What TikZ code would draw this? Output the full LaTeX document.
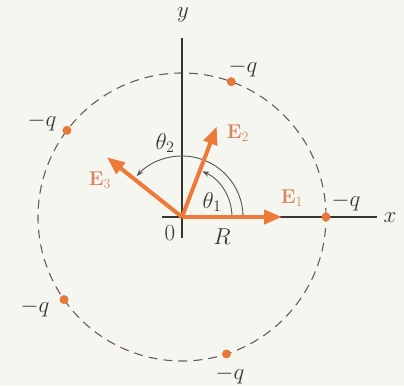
\RequirePackage{fix-cm}
\documentclass[tikz,border=0pt]{standalone}
\usetikzlibrary{arrows.meta}
\definecolor{vec}{HTML}{EE7A3A}
\definecolor{veclab}{HTML}{D9845E}
\definecolor{dotc}{HTML}{E8773A}
\definecolor{axisc}{HTML}{3A3535}
\definecolor{circc}{HTML}{6E5A5A}
\definecolor{bgc}{HTML}{F6F6F0}
\tikzset{
  vecarrow/.style={draw=vec, line width=4pt, -{Triangle[length=18pt,width=14pt]}},
  axisline/.style={draw=axisc, line width=1.1pt},
  anglearc/.style={draw=axisc!85, line width=0.9pt, -{Stealth[length=7pt,width=5pt]}},
  charge/.style={circle, fill=dotc, inner sep=0pt, minimum size=9pt},
  lab/.style={text=axisc, font=\fontsize{23}{25}\selectfont, inner sep=0pt},
  vlab/.style={text=veclab, font=\fontsize{20}{22}\selectfont, inner sep=0pt},
}
\begin{document}
\begin{tikzpicture}[x=1pt,y=1pt]
\fill[bgc] (-182,-169) rectangle (222,217);
\useasboundingbox (-182,-169) rectangle (222,217);
\coordinate (O) at (0,0);
\coordinate (xs) at (-20,0);
\coordinate (xe) at (195,0);
\coordinate (ys) at (0,-21);
\coordinate (ye) at (0,179);
% dashed circle
\draw[circc, line width=1.1pt, dash pattern=on 9pt off 6pt] (O) circle[radius=144];
% axes
\draw[axisline] (xs) -- (xe);
\draw[axisline] (ys) -- (ye);
% angle arcs
\draw[anglearc] (50,0) arc[start angle=0, end angle=66, radius=50];
\draw[anglearc] (61,0) arc[start angle=0, end angle=138, radius=61];
% vectors
\coordinate (e1) at (0:100);
\coordinate (e2) at (69:97);
\coordinate (e3) at (141.5:96);
\draw[vecarrow] (O) -- (e1);
\draw[vecarrow] (O) -- (e2);
\draw[vecarrow] (O) -- (e3);
% charges
\node[charge] (q1) at (0:144) {};
\node[charge] (q2) at (70:144) {};
\node[charge] (q3) at (143:144) {};
\node[charge] (q4) at (215:144) {};
\node[charge] (q5) at (288:144) {};
% labels
\node[lab] (ly) at (1,202) {$y$};
\node[lab] (lx) at (208,-1) {$x$};
\node[lab] (lq1) at (164,15) {$-q$};
\node[lab] (lq2) at (61,149) {$-q$};
\node[lab] (lq3) at (-140,95) {$-q$};
\node[lab] (lq4) at (-147,-91) {$-q$};
\node[lab] (lq5) at (48,-158) {$-q$};
\node[lab] (lt1) at (30,15) {$\theta_1$};
\node[lab] (lt2) at (-17,74) {$\theta_2$};
\node[lab] (l0) at (-12,-16) {$0$};
\node[lab] (lR) at (40,-20) {$R$};
\node[vlab] (lE1) at (110,19) {\textbf{E}$_1$};
\node[vlab] (lE2) at (56,84) {\textbf{E}$_2$};
\node[vlab] (lE3) at (-82,37) {\textbf{E}$_3$};
\end{tikzpicture}
\end{document}
